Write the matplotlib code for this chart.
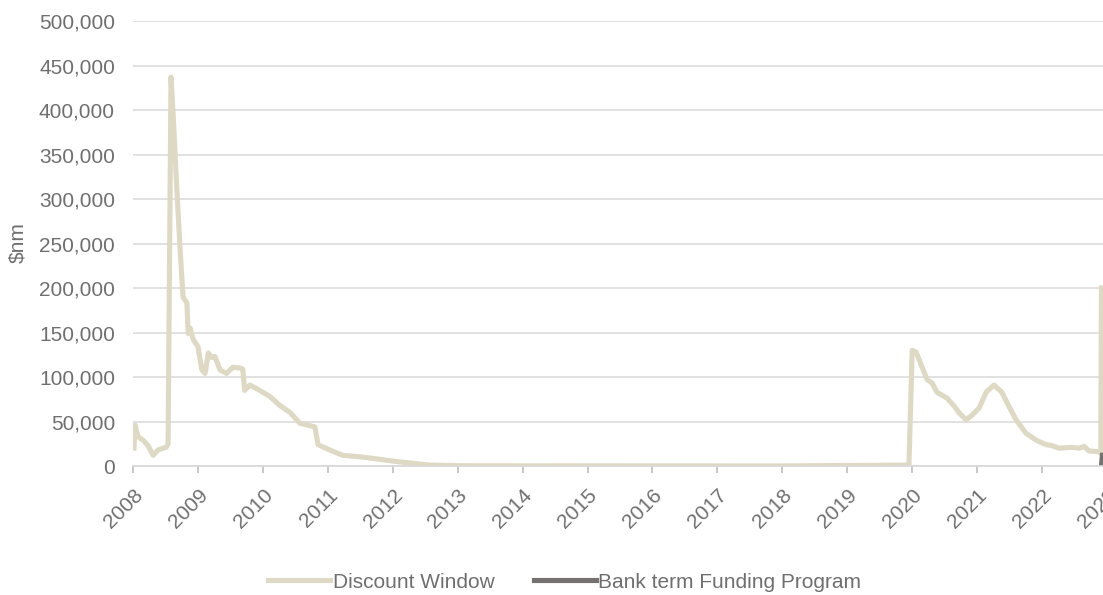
import matplotlib.pyplot as plt
from matplotlib.ticker import FuncFormatter

plt.rcParams['font.family'] = ['Liberation Sans', 'DejaVu Sans']

# Discount Window usage, $mn, positions in decimal years
dw_x = [2008.015, 2008.03, 2008.077, 2008.154, 2008.23, 2008.31, 2008.385, 2008.46,
        2008.51, 2008.54, 2008.585, 2008.62, 2008.67, 2008.72, 2008.77, 2008.83,
        2008.85, 2008.88, 2008.90, 2008.93, 2009.00, 2009.06, 2009.11, 2009.16,
        2009.21, 2009.26, 2009.34, 2009.44, 2009.54, 2009.65, 2009.69, 2009.72,
        2009.80, 2009.95, 2010.11, 2010.26, 2010.42, 2010.57, 2010.80, 2010.85,
        2011.03, 2011.23, 2011.54, 2012.06, 2012.57, 2013.03, 2014.0, 2016.0,
        2018.0, 2019.95, 2020.0, 2020.06, 2020.11, 2020.23, 2020.31, 2020.38,
        2020.54, 2020.65, 2020.72, 2020.83, 2020.92, 2021.03, 2021.14, 2021.26,
        2021.38, 2021.49, 2021.60, 2021.75, 2021.91, 2022.06, 2022.15, 2022.26,
        2022.46, 2022.57, 2022.65, 2022.72, 2022.88, 2022.905, 2022.915]
dw_y = [20000, 46000, 33000, 29000, 23000, 12000, 18000, 20000,
        21000, 25000, 437000, 392000, 318000, 250000, 190000, 183000,
        149000, 155000, 149000, 142000, 134000, 108000, 104000, 127000,
        122000, 123000, 108000, 104000, 111000, 110000, 109000, 85000,
        91000, 85000, 78000, 68000, 60000, 48000, 44000, 24000,
        18000, 12000, 10000, 5000, 1000, 300, 200, 150,
        100, 1000, 130000, 128000, 119000, 97000, 93000, 83000,
        76000, 67000, 60000, 52000, 57000, 65000, 83000, 91000,
        83000, 67000, 52000, 37000, 29000, 24000, 23000, 20000,
        21000, 20000, 22000, 17000, 16000, 14000, 200000]

# Bank Term Funding Program, $mn
btfp_x = [2022.915, 2022.93]
btfp_y = [0, 11900]

years = list(range(2008, 2024))
text_color = '#6F6F6F'
grid_color = '#D9D9D9'

fig = plt.figure(figsize=(11.03, 5.95), dpi=100)
ax = fig.add_axes([0.1206, 0.2168, 0.8830, 0.7479])

ax.plot(dw_x, dw_y, color='#DDD9C4', lw=3.7, solid_joinstyle='round',
        label='Discount Window')
ax.plot(btfp_x, btfp_y, color='#767171', lw=3.7, label='Bank term Funding Program')

ax.set_xlim(2008, 2023)
ax.set_ylim(0, 500000)
ax.set_yticks(range(0, 500001, 50000))
ax.yaxis.set_major_formatter(FuncFormatter(lambda v, p: f'{int(v):,}'))
ax.set_xticks(years)
ax.set_xticklabels([str(y) for y in years], rotation=45, ha='right',
                   rotation_mode='anchor')

ax.grid(axis='y', color=grid_color, lw=1.1)
ax.set_axisbelow(True)
for side in ['left', 'right', 'top']:
    ax.spines[side].set_visible(False)
ax.spines['bottom'].set_color(grid_color)
ax.spines['bottom'].set_linewidth(1.3)

ax.tick_params(axis='y', length=0, pad=13, labelsize=15, labelcolor=text_color)
ax.tick_params(axis='x', length=5, width=1.2, color='#BFBFBF', pad=9,
               labelsize=15, labelcolor=text_color)

fig.text(18 / 1103, 0.593, '$nm', rotation=90, ha='center', va='center',
         fontsize=15, color=text_color)

fig.legend(loc='center', bbox_to_anchor=(0.512, 1 - 582 / 595), ncol=2,
           frameon=False, fontsize=15, labelcolor=text_color,
           handlelength=3.0, handletextpad=0.1, columnspacing=1.9)

fig.savefig('out.png', dpi=100)
